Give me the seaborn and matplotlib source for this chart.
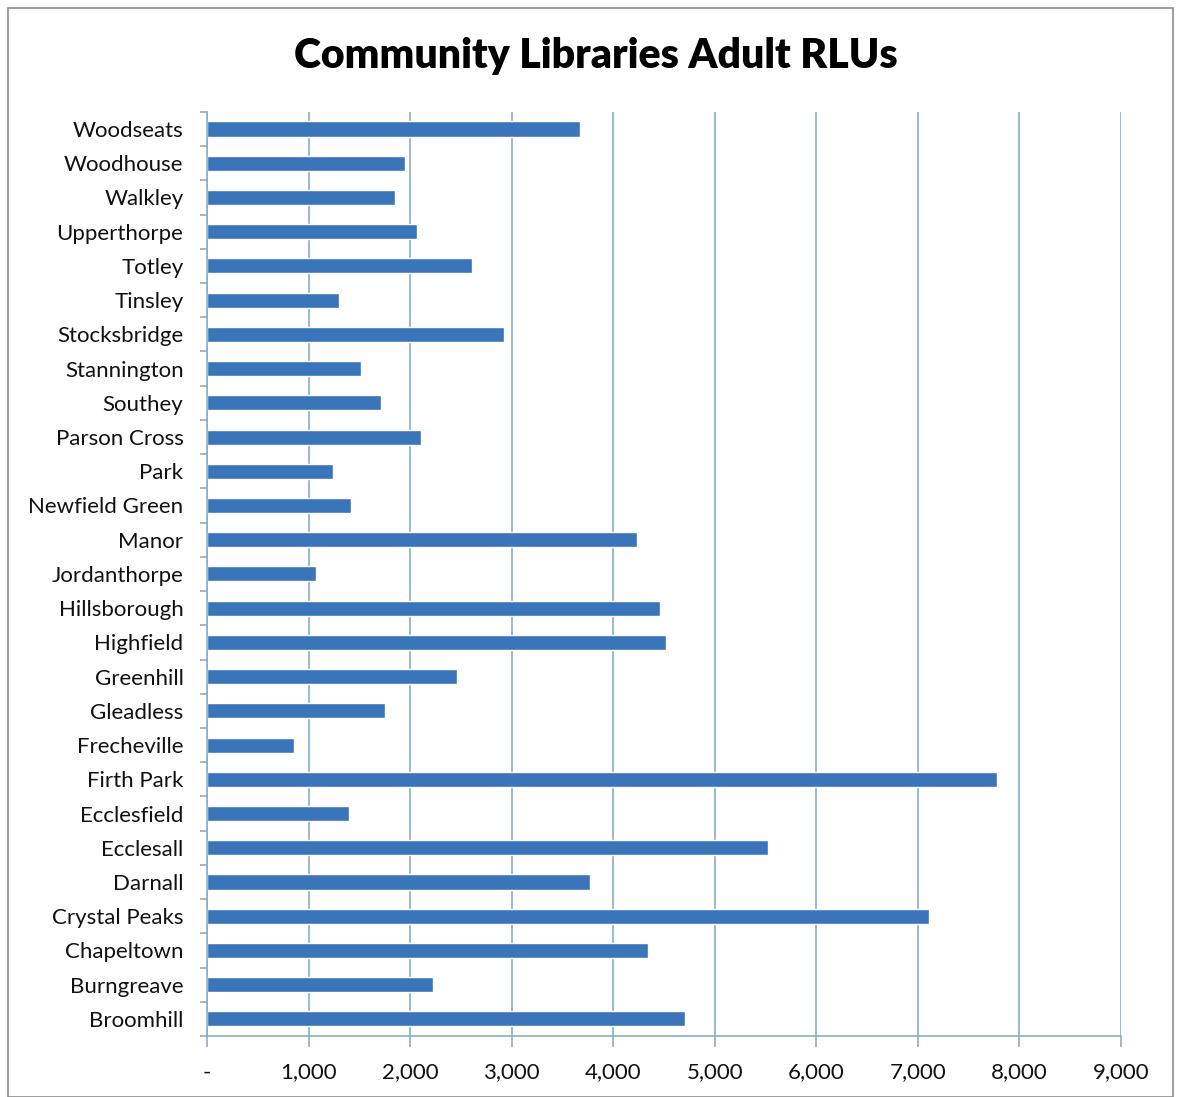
import matplotlib
matplotlib.use("Agg")
import matplotlib.pyplot as plt
import seaborn as sns
import pandas as pd
from matplotlib.ticker import FuncFormatter, FixedLocator
from matplotlib.patches import Rectangle

libraries = ["Woodseats", "Woodhouse", "Walkley", "Upperthorpe", "Totley", "Tinsley",
             "Stocksbridge", "Stannington", "Southey", "Parson Cross", "Park",
             "Newfield Green", "Manor", "Jordanthorpe", "Hillsborough", "Highfield",
             "Greenhill", "Gleadless", "Frecheville", "Firth Park", "Ecclesfield",
             "Ecclesall", "Darnall", "Crystal Peaks", "Chapeltown", "Burngreave",
             "Broomhill"]
rlus = [3670, 1950, 1850, 2070, 2610, 1300, 2920, 1515, 1710, 2105, 1240, 1420,
        4230, 1075, 4460, 4520, 2460, 1750, 855, 7775, 1400, 5520, 3770, 7105,
        4340, 2225, 4705]
x_ticks = [0, 1000, 2000, 3000, 4000, 5000, 6000, 7000, 8000, 9000]
title = "Community Libraries Adult RLUs"

df = pd.DataFrame({"Library": libraries, "RLUs": rlus})

sns.set_theme(style="white")
plt.rcParams["font.family"] = ["Lato", "DejaVu Sans"]

fig = plt.figure(figsize=(11.77, 10.97), dpi=100)
ax = fig.add_axes([0.1759, 0.0556, 0.9524 - 0.1759, 0.898 - 0.0556])

grid_col = "#8aaec4"
ax.set_axisbelow(True)
sns.barplot(data=df, x="RLUs", y="Library", orient="h", color="#3a74b9",
            saturation=1, width=0.44, ax=ax, order=libraries)

ax.set_xlim(0, 9000)
ax.set_ylim(len(libraries) - 0.5, -0.5)
ax.xaxis.set_major_locator(FixedLocator(x_ticks))
ax.xaxis.set_major_formatter(FuncFormatter(lambda v, p: "-" if v == 0 else f"{int(v):,}"))
ax.grid(axis="x", color=grid_col, linewidth=1.2)
ax.grid(axis="y", visible=False)

for s in ["top", "right"]:
    ax.spines[s].set_visible(False)
for s in ["left", "bottom"]:
    ax.spines[s].set_color(grid_col)
    ax.spines[s].set_linewidth(1.2)

ax.tick_params(axis="x", which="major", bottom=True, length=8, width=1.2,
               color=grid_col, labelsize=16, pad=11, labelcolor="#111111")
ax.tick_params(axis="y", which="major", left=False, labelsize=16, pad=11,
               labelcolor="#111111")
ax.yaxis.set_minor_locator(FixedLocator([i - 0.5 for i in range(len(libraries) + 1)]))
ax.tick_params(axis="y", which="minor", left=True, length=5, width=1.2, color=grid_col)

ax.set_xlabel("")
ax.set_ylabel("")

fig.text(0.506, 0.949, title, ha="center", va="center", fontsize=29.5,
         fontweight="heavy", color="#000000")

fig.patches.append(Rectangle((0.007, 0.0), 0.99, 0.993, transform=fig.transFigure,
                             fill=False, edgecolor="#8c8c8c", linewidth=1.2))

fig.savefig("out.png", dpi=100)
